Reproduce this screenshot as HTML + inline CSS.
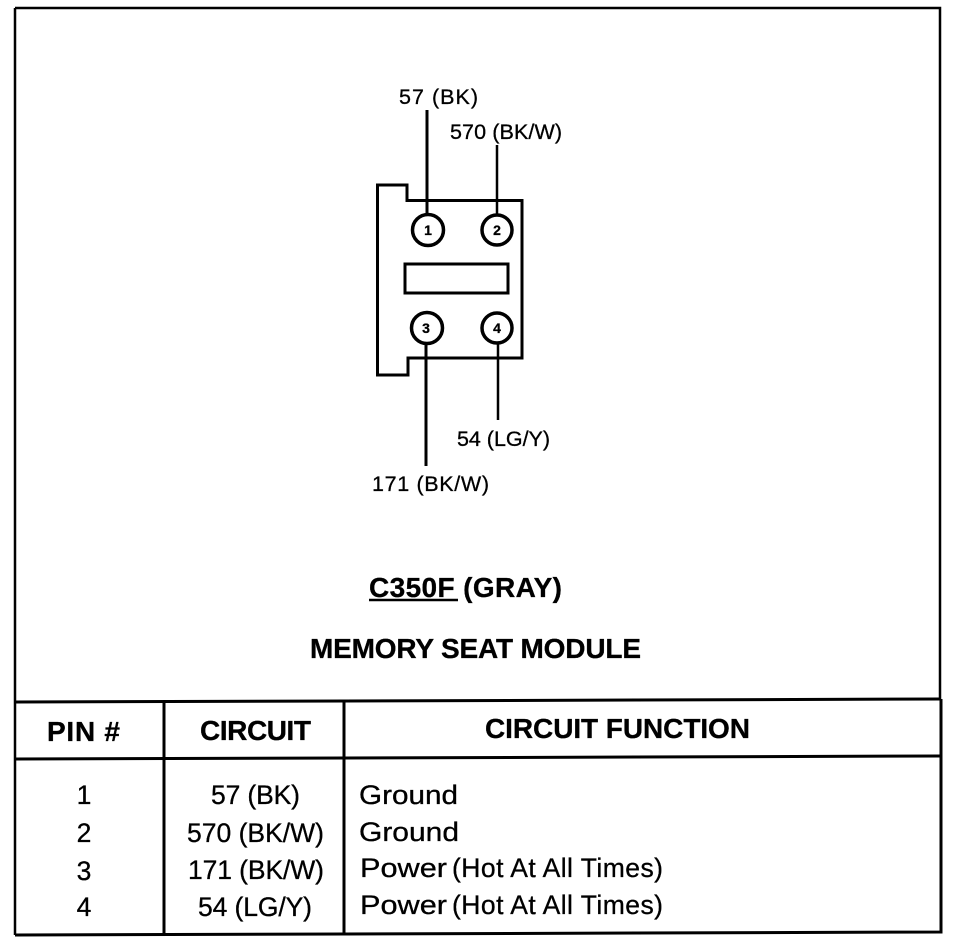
<!DOCTYPE html>
<html><head><meta charset="utf-8"><style>
html,body{margin:0;padding:0;background:#fff}
svg{display:block}
text{font-family:"Liberation Sans",sans-serif;fill:#000;stroke:#000;stroke-width:.3}
.b{font-weight:bold;font-size:28px}
.t{font-size:26.500px}
.l{font-size:21.500px}
.n{font-size:14px;font-weight:bold}
</style></head><body>
<svg width="960" height="944" viewBox="0 0 960 944" xmlns="http://www.w3.org/2000/svg">
<rect width="960" height="944" fill="#fff"/>
<g fill="none" stroke="#000">
<path d="M15 8H940V700M15 8V935" stroke-width="2.500"/>
<path d="M15 702L345 701L941 699" stroke-width="3"/>
<path d="M15 759L345 758L941 756" stroke-width="3"/>
<path d="M15 935L345 934L941 932V699" stroke-width="3"/>
<path d="M164 702V935M344 702V934" stroke-width="3"/>
<path d="M377.500 185H407V200.500H522V358H408V375H377.500Z" stroke-width="3"/>
<rect x="405" y="264" width="103" height="29" stroke-width="3"/>
<circle cx="428" cy="230" r="15.500" stroke-width="3.500"/>
<circle cx="497" cy="230" r="15" stroke-width="3.500"/>
<circle cx="427" cy="328" r="15.500" stroke-width="3.500"/>
<circle cx="497" cy="328" r="15" stroke-width="3.500"/>
<path d="M427 110V215" stroke-width="3"/>
<path d="M497 145V215" stroke-width="2.500"/>
<path d="M426 343V466" stroke-width="3"/>
<path d="M498 343V420" stroke-width="2.500"/>
<path d="M369 600H458" stroke-width="2.500"/>
</g>
<text class="l" x="399" y="104" textLength="79">57 (BK)</text>
<text class="l" x="450" y="139" textLength="112">570 (BK/W)</text>
<text class="l" x="457" y="446" textLength="93">54 (LG/Y)</text>
<text class="l" x="372" y="491" textLength="117">171 (BK/W)</text>
<text class="n" x="428" y="235" text-anchor="middle">1</text>
<text class="n" x="497" y="235" text-anchor="middle">2</text>
<text class="n" x="426" y="333" text-anchor="middle">3</text>
<text class="n" x="497" y="333" text-anchor="middle">4</text>
<text class="b" x="369" y="597" textLength="193">C350F (GRAY)</text>
<text class="b" x="310" y="658" textLength="331">MEMORY SEAT MODULE</text>
<text class="b" x="47" y="741" textLength="73">PIN #</text>
<text class="b" x="200" y="740" textLength="111">CIRCUIT</text>
<text class="b" x="485" y="738" textLength="265">CIRCUIT FUNCTION</text>
<text class="t" x="84" y="804" text-anchor="middle">1</text>
<text class="t" x="84" y="842" text-anchor="middle">2</text>
<text class="t" x="84" y="880" text-anchor="middle">3</text>
<text class="t" x="84" y="916" text-anchor="middle">4</text>
<text class="t" x="211" y="804" textLength="89">57 (BK)</text>
<text class="t" x="187" y="842" textLength="137">570 (BK/W)</text>
<text class="t" x="188" y="879" textLength="136">171 (BK/W)</text>
<text class="t" x="198" y="916" textLength="114">54 (LG/Y)</text>
<text class="t" x="359" y="804" textLength="99" lengthAdjust="spacingAndGlyphs">Ground</text>
<text class="t" x="359" y="841" textLength="100" lengthAdjust="spacingAndGlyphs">Ground</text>
<text class="t" x="360" y="877" textLength="87" lengthAdjust="spacingAndGlyphs">Power</text>
<text class="t" x="452" y="877" textLength="211">(Hot At All Times)</text>
<text class="t" x="360" y="914" textLength="87" lengthAdjust="spacingAndGlyphs">Power</text>
<text class="t" x="452" y="914" textLength="211">(Hot At All Times)</text>
</svg>
</body></html>
